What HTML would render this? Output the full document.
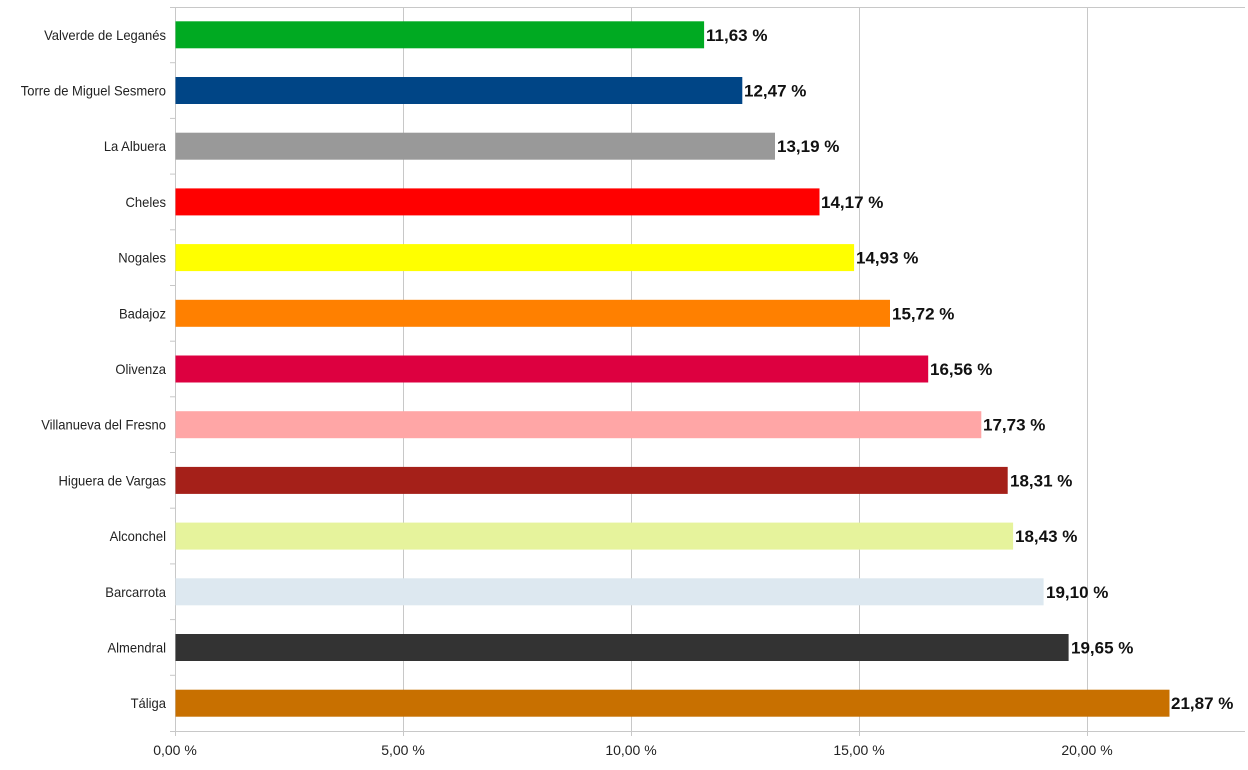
<!DOCTYPE html>
<html><head><meta charset="utf-8"><style>
html,body{margin:0;padding:0;background:#fff;}
svg{display:block;}
.c{font-family:"Liberation Sans",sans-serif;font-size:14px;fill:#222;}
.v{font-family:"Liberation Sans",sans-serif;font-size:17px;font-weight:bold;fill:#111;}
</style></head><body>
<svg width="1248" height="770" xmlns="http://www.w3.org/2000/svg">
<g stroke="#c8c8c8" stroke-width="1">
<line x1="175" y1="7.5" x2="1245" y2="7.5"/>
<line x1="403.5" y1="7" x2="403.5" y2="736"/>
<line x1="631.5" y1="7" x2="631.5" y2="736"/>
<line x1="859.5" y1="7" x2="859.5" y2="736"/>
<line x1="1087.5" y1="7" x2="1087.5" y2="736"/>
<line x1="175.5" y1="7" x2="175.5" y2="736"/>
<line x1="170" y1="731.5" x2="1245" y2="731.5"/>
<line x1="170" x2="175" y1="7.5" y2="7.5"/>
<line x1="170" x2="175" y1="62.7" y2="62.7"/>
<line x1="170" x2="175" y1="118.4" y2="118.4"/>
<line x1="170" x2="175" y1="174.1" y2="174.1"/>
<line x1="170" x2="175" y1="229.8" y2="229.8"/>
<line x1="170" x2="175" y1="285.5" y2="285.5"/>
<line x1="170" x2="175" y1="341.2" y2="341.2"/>
<line x1="170" x2="175" y1="396.8" y2="396.8"/>
<line x1="170" x2="175" y1="452.5" y2="452.5"/>
<line x1="170" x2="175" y1="508.2" y2="508.2"/>
<line x1="170" x2="175" y1="563.9" y2="563.9"/>
<line x1="170" x2="175" y1="619.6" y2="619.6"/>
<line x1="170" x2="175" y1="675.3" y2="675.3"/>
</g>
<g>
<rect x="175.5" y="21.3" width="528.6" height="27" fill="#00aa22"/>
<rect x="175.5" y="77.0" width="566.8" height="27" fill="#004586"/>
<rect x="175.5" y="132.7" width="599.5" height="27" fill="#999999"/>
<rect x="175.5" y="188.4" width="644.0" height="27" fill="#ff0000"/>
<rect x="175.5" y="244.1" width="678.6" height="27" fill="#ffff00"/>
<rect x="175.5" y="299.8" width="714.5" height="27" fill="#ff8000"/>
<rect x="175.5" y="355.5" width="752.7" height="27" fill="#dd0040"/>
<rect x="175.5" y="411.2" width="805.8" height="27" fill="#ffa6a6"/>
<rect x="175.5" y="466.9" width="832.2" height="27" fill="#a52019"/>
<rect x="175.5" y="522.6" width="837.6" height="27" fill="#e6f39c"/>
<rect x="175.5" y="578.3" width="868.1" height="27" fill="#dde8f0"/>
<rect x="175.5" y="634.0" width="893.1" height="27" fill="#333333"/>
<rect x="175.5" y="689.7" width="994.0" height="27" fill="#c87000"/>
</g>
<g class="c" text-anchor="end" transform="translate(166,0) scale(0.93,1)">
<text x="0" y="39.9">Valverde de Leganés</text>
<text x="0" y="95.5">Torre de Miguel Sesmero</text>
<text x="0" y="151.2">La Albuera</text>
<text x="0" y="206.9">Cheles</text>
<text x="0" y="262.6">Nogales</text>
<text x="0" y="318.3">Badajoz</text>
<text x="0" y="374.0">Olivenza</text>
<text x="0" y="429.7">Villanueva del Fresno</text>
<text x="0" y="485.4">Higuera de Vargas</text>
<text x="0" y="541.1">Alconchel</text>
<text x="0" y="596.8">Barcarrota</text>
<text x="0" y="652.5">Almendral</text>
<text x="0" y="708.2">Táliga</text>
</g>
<g class="v">
<text x="706" y="40.9">11,63 %</text>
<text x="744" y="96.5">12,47 %</text>
<text x="777" y="152.2">13,19 %</text>
<text x="821" y="207.9">14,17 %</text>
<text x="856" y="263.6">14,93 %</text>
<text x="892" y="319.3">15,72 %</text>
<text x="930" y="375.0">16,56 %</text>
<text x="983" y="430.7">17,73 %</text>
<text x="1010" y="486.4">18,31 %</text>
<text x="1015" y="542.1">18,43 %</text>
<text x="1046" y="597.8">19,10 %</text>
<text x="1071" y="653.5">19,65 %</text>
<text x="1171" y="709.2">21,87 %</text>
</g>
<g class="c" text-anchor="middle">
<text x="175" y="755">0,00 %</text>
<text x="403" y="755">5,00 %</text>
<text x="631" y="755">10,00 %</text>
<text x="859" y="755">15,00 %</text>
<text x="1087" y="755">20,00 %</text>
</g>
</svg>
</body></html>
